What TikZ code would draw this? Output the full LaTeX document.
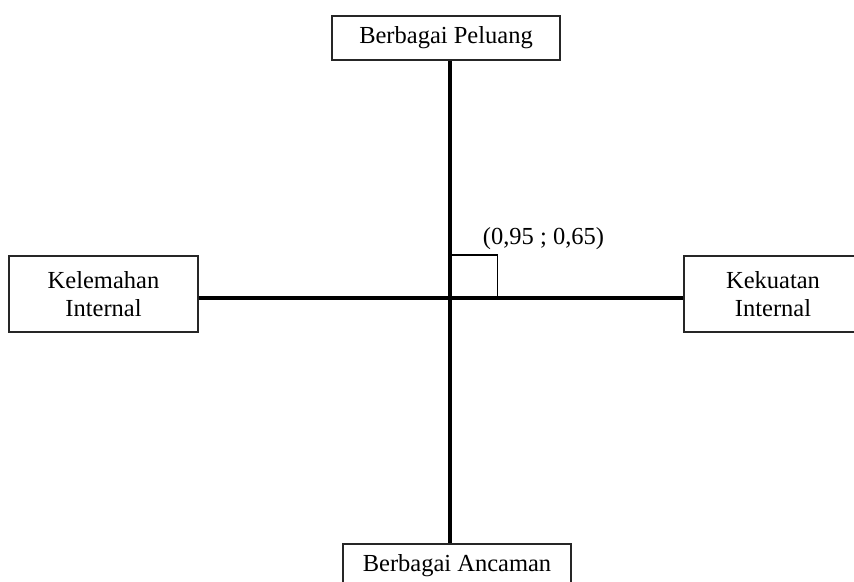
\documentclass[tikz,border=0pt]{standalone}
\usepackage{fontspec}
\setmainfont{Liberation Serif}
\begin{document}
\begin{tikzpicture}[x=1pt,y=-1pt,
  lbl/.style={draw=black!85,line width=1.3pt,inner sep=0pt,align=center,font=\fontsize{24.5}{27.5}\selectfont},
  axis/.style={line width=4pt}]
\useasboundingbox (0,0) rectangle (854,581);
\clip (0,0) rectangle (854,581);
\node[lbl,minimum width=228,minimum height=44] (top) at (446,38) {Berbagai Peluang};
\node[lbl,minimum width=189,minimum height=76] (left) at (103.5,294) {Kelemahan\\Internal};
\node[lbl,minimum width=178,minimum height=76] (right) at (773,294) {Kekuatan\\Internal};
\node[lbl,minimum width=228,minimum height=44] (bot) at (457,566) {Berbagai Ancaman};
\coordinate (c) at (450,297.5);
\draw[axis] (c |- top.south) -- (c |- bot.north);
\draw[axis] (c -| left.east) -- (c -| right.west);
\coordinate (q) at (497.5,255);
\draw[line width=1.3pt] (c) |- (q) -- (q |- c);
\node[anchor=base,inner sep=0pt,font=\fontsize{24.5}{27.5}\selectfont] (pt) at (543.5,244) {(0,95 ; 0,65)};
\end{tikzpicture}
\end{document}
